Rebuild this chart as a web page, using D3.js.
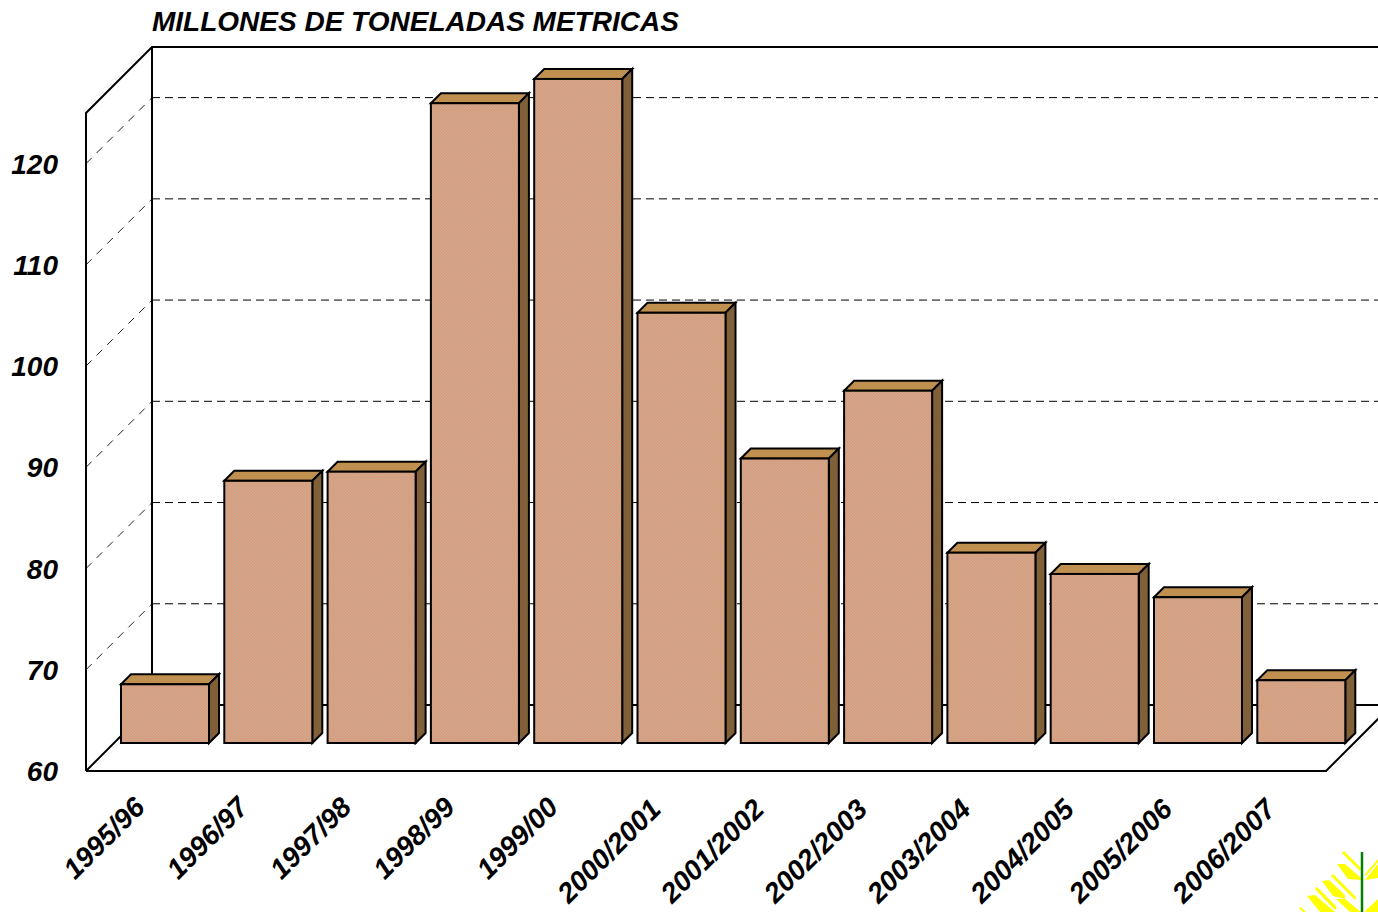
<!DOCTYPE html>
<html><head><meta charset="utf-8">
<script src="https://cdn.jsdelivr.net/npm/d3@7"></script>
<style>html,body{margin:0;padding:0;background:#fff;overflow:hidden}
svg{display:block}
text{font-family:"Liberation Sans",Arial,sans-serif;font-weight:bold;font-style:italic;fill:#000}</style>
</head><body><svg id="c" width="1378" height="912"></svg>
<script>
const categories=["1995/96","1996/97","1997/98","1998/99","1999/00","2000/2001","2001/2002","2002/2003","2003/2004","2004/2005","2005/2006","2006/2007"];
const values=[65.8,85.9,86.8,123.2,125.6,102.5,88.1,94.8,78.8,76.7,74.4,66.2];
const yTicks=[60,70,80,90,100,110,120];
const gridTicks=[70,80,90,100,110,120];
const titleText="MILLONES DE TONELADAS METRICAS";

const svg=d3.select("#c");
const depth=66, barDepth=10;
const frontLeft=86, frontRight=1326, floorY=771;
const y=d3.scaleLinear().domain([60,125]).range([floorY,floorY-658]);
const x=d3.scaleBand().domain(categories).range([121,1345.3]).paddingInner(0.148).paddingOuter(0);
const barBase=743;
const h=v=>y(60)-y(v);

const defs=svg.append("defs");
const pat=defs.append("pattern").attr("id","dither").attr("width",3).attr("height",3).attr("patternUnits","userSpaceOnUse");
pat.append("rect").attr("width",3).attr("height",3).attr("fill","#d4a284");
[[0,0,"#e4946e"],[1.5,1.5,"#e4946e"],[1.5,0,"#c8ac94"],[0,1.5,"#c8ac94"]].forEach(d=>pat.append("rect").attr("x",d[0]).attr("y",d[1]).attr("width",1.5).attr("height",1.5).attr("fill",d[2]));

const grid=svg.append("g");
gridTicks.forEach(t=>{
  grid.append("line").attr("x1",frontLeft+depth).attr("x2",1378).attr("y1",y(t)-depth).attr("y2",y(t)-depth)
    .attr("stroke","#000").attr("stroke-width",1).attr("stroke-dasharray","8 5");
  grid.append("line").attr("x1",frontLeft).attr("x2",frontLeft+depth).attr("y1",y(t)).attr("y2",y(t)-depth)
    .attr("stroke","#222").attr("stroke-width",1).attr("stroke-dasharray","8 7");
});

const frame=svg.append("g").attr("fill","none").attr("stroke","#000").attr("stroke-width",2);
const wallTop=y(125);
frame.append("path").attr("d",`M${frontLeft},${y(60)}V${wallTop}L${frontLeft+depth},${wallTop-depth}H1380`);
frame.append("path").attr("d",`M${frontLeft+depth},${wallTop-depth}V${y(60)-depth}`);
frame.append("path").attr("d",`M${frontLeft},${y(60)}L${frontLeft+depth},${y(60)-depth}H1380`);
frame.append("path").attr("d",`M${frontLeft},${y(60)}H${frontRight}L${frontRight+depth},${y(60)-depth}`);

const bars=svg.append("g").selectAll("g").data(categories).join("g");
const bx=c=>x(c), bw=x.bandwidth();
const line={stroke:"#000","stroke-width":2,"stroke-linejoin":"miter"};
function st(s){Object.entries(line).forEach(([k,v])=>s.attr(k,v));return s;}
st(bars.append("path").attr("fill","#c09050").attr("d",(c,i)=>{
  const t=barBase-h(values[i]);
  return `M${bx(c)},${t}l${barDepth},${-barDepth}h${bw}l${-barDepth},${barDepth}z`;}));
st(bars.append("path").attr("fill","#806038").attr("d",(c,i)=>{
  const t=barBase-h(values[i]);
  return `M${bx(c)+bw},${t}l${barDepth},${-barDepth}V${barBase-barDepth}l${-barDepth},${barDepth}z`;}));
st(bars.append("rect").attr("fill","url(#dither)").attr("x",c=>bx(c)).attr("width",bw)
  .attr("y",(c,i)=>barBase-h(values[i])).attr("height",(c,i)=>h(values[i])));

svg.append("g").selectAll("text").data(yTicks).join("text")
  .attr("x",58).attr("y",t=>y(t)+10).attr("text-anchor","end").attr("font-size",28).text(t=>t);

svg.append("g").selectAll("text").data(categories).join("text")
  .attr("text-anchor","end").attr("font-size",28)
  .attr("transform",(c,i)=>`translate(${bx(c)+bw/2-(i>=10?24:c.length>7?19:18.5)},${c.length>7?811:809}) rotate(-45)`).text(c=>c);

svg.append("text").attr("x",152).attr("y",31).attr("font-size",28).text(titleText);

// decorative wheat emblem, cropped by the page edge
const logoShapes=[
 [[1337,864],[1345,864],[1360,877],[1362,880],[1348,879]],
 [[1342,853],[1344,851],[1361,868],[1360,871]],
 [[1322,881],[1329,880],[1345,895],[1345,899],[1333,896]],
 [[1331,876],[1333,874],[1356,897],[1355,900]],
 [[1307,896],[1315,895],[1335,912],[1320,912]],
 [[1315,889],[1317,887],[1337,907],[1335,910]],
 [[1336,899],[1345,899],[1361,912],[1350,912]],
 [[1299,908],[1301,907],[1306,912],[1303,912]],
 [[1365,880],[1378,878],[1378,864]],
 [[1365,874],[1378,859],[1378,862],[1366,876]],
 [[1365,911],[1378,899],[1378,912],[1366,912]]
];
const logo=svg.append("g");
logo.selectAll("path").data(logoShapes).join("path").attr("fill","#ffff00").attr("d",d3.line());
logo.append("line").attr("x1",1362).attr("x2",1362).attr("y1",852).attr("y2",912).attr("stroke","#008000").attr("stroke-width",2.5);
</script></body></html>
